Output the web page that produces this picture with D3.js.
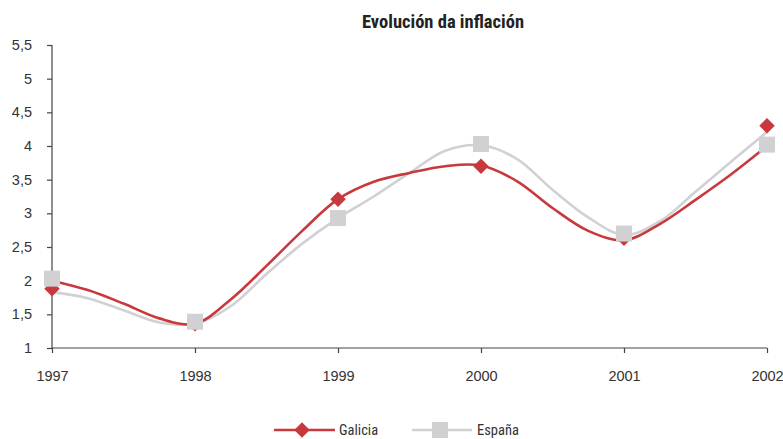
<!DOCTYPE html>
<html>
<head>
<meta charset="utf-8">
<script src="https://cdn.jsdelivr.net/npm/d3@7/dist/d3.min.js"></script>
<style>
  html, body { margin: 0; padding: 0; background: #fff; }
  svg text { font-family: "Liberation Sans Narrow", "Arial Narrow", "Roboto Condensed", "Liberation Sans", sans-serif; font-stretch: condensed; }
</style>
</head>
<body>
<svg id="chart" width="783" height="439"></svg>
<script>
// ---- data ----
const years = [1997, 1998, 1999, 2000, 2001, 2002];
const yTicks = [1, 1.5, 2, 2.5, 3, 3.5, 4, 4.5, 5, 5.5];
const seriesNames = ["Galicia", "España"];
// annual marker values
const galicia = [1.88, 1.36, 3.21, 3.70, 2.63, 4.30];
const espana  = [2.03, 1.39, 2.93, 4.03, 2.70, 4.02];
// quarterly trend lines as drawn
const lineTimes = [1997, 1997.25, 1997.5, 1997.75, 1998, 1998.25, 1998.5, 1998.75, 1999, 1999.25, 1999.5, 1999.75,
                   2000, 2000.25, 2000.5, 2000.75, 2001, 2001.25, 2001.5, 2001.75, 2002];
const galiciaLine = [2.00, 1.86, 1.66, 1.44, 1.36, 1.72, 2.22, 2.74, 3.21, 3.47, 3.60, 3.70,
                     3.71, 3.48, 3.08, 2.74, 2.60, 2.84, 3.20, 3.58, 4.00];
const espanaLine  = [1.83, 1.74, 1.56, 1.38, 1.36, 1.62, 2.10, 2.55, 2.93, 3.25, 3.60, 3.93,
                     4.01, 3.81, 3.35, 2.94, 2.68, 2.88, 3.32, 3.77, 4.21];

const RED = "#C8393D", GREY = "#D1D1D3", AXIS = "#444";

const svg = d3.select("#chart");
const x = d3.scaleLinear().domain([1997, 2002]).range([52, 767]);
const y = d3.scaleLinear().domain([1, 5.5]).range([348, 45]);

// title
svg.append("text").attr("x", 443).attr("y", 28).attr("text-anchor", "middle")
  .attr("font-size", 18.5).attr("font-weight", "bold").attr("fill", "#222")
  .text("Evolución da inflación");

// axes
const yAxis = svg.append("g").attr("transform", "translate(52,0)")
  .call(d3.axisLeft(y).tickValues(yTicks).tickSize(5).tickPadding(15)
        .tickFormat(d => String(d).replace(".", ",")));
const xAxis = svg.append("g").attr("transform", "translate(0,348)")
  .call(d3.axisBottom(x).tickValues(years).tickSize(5).tickPadding(18).tickFormat(d3.format("d")));
[yAxis, xAxis].forEach(g => {
  g.select(".domain").attr("stroke", AXIS).attr("stroke-width", 1.2);
  g.selectAll(".tick line").attr("stroke", AXIS).attr("stroke-width", 1.2);
  g.selectAll(".tick text").attr("fill", "#333").attr("font-size", 14.5)
    .style("font-family", "'Liberation Sans Narrow','Arial Narrow',sans-serif");
});
yAxis.select(".domain").attr("d", "M0,45V348");
xAxis.select(".domain").attr("d", "M52,0H767");

// lines
const line = d3.line().x(d => x(d[0])).y(d => y(d[1])).curve(d3.curveCatmullRom.alpha(0.5));
svg.append("path").datum(lineTimes.map((t, i) => [t, espanaLine[i]]))
  .attr("d", line).attr("fill", "none").attr("stroke", GREY).attr("stroke-width", 2.6);
svg.append("path").datum(lineTimes.map((t, i) => [t, galiciaLine[i]]))
  .attr("d", line).attr("fill", "none").attr("stroke", RED).attr("stroke-width", 2.6);

// markers
const diamond = d3.symbol().type(d3.symbolSquare).size(11 * 11);
svg.append("g").selectAll("path").data(years.map((yr, i) => [yr, galicia[i]])).join("path")
  .attr("d", diamond)
  .attr("transform", d => `translate(${x(d[0])},${y(d[1])}) rotate(45)`)
  .attr("fill", RED);
svg.append("g").selectAll("rect").data(years.map((yr, i) => [yr, espana[i]])).join("rect")
  .attr("x", d => x(d[0]) - 8).attr("y", d => y(d[1]) - 8)
  .attr("width", 16).attr("height", 16).attr("fill", GREY);

// legend
const leg = svg.append("g");
const ly = 430;
leg.append("line").attr("x1", 274).attr("x2", 335).attr("y1", ly).attr("y2", ly)
  .attr("stroke", RED).attr("stroke-width", 2.6);
leg.append("path").attr("d", diamond).attr("transform", `translate(302,${ly}) rotate(45)`).attr("fill", RED);
leg.append("text").attr("x", 339).attr("y", ly + 4.5).attr("font-size", 14.5).attr("fill", "#333").text(seriesNames[0]);
leg.append("line").attr("x1", 412).attr("x2", 472).attr("y1", ly).attr("y2", ly)
  .attr("stroke", GREY).attr("stroke-width", 2.6);
leg.append("rect").attr("x", 432).attr("y", ly - 8).attr("width", 16).attr("height", 16).attr("fill", GREY);
leg.append("text").attr("x", 477).attr("y", ly + 4.5).attr("font-size", 14.5).attr("fill", "#333").text(seriesNames[1]);
</script>
</body>
</html>
